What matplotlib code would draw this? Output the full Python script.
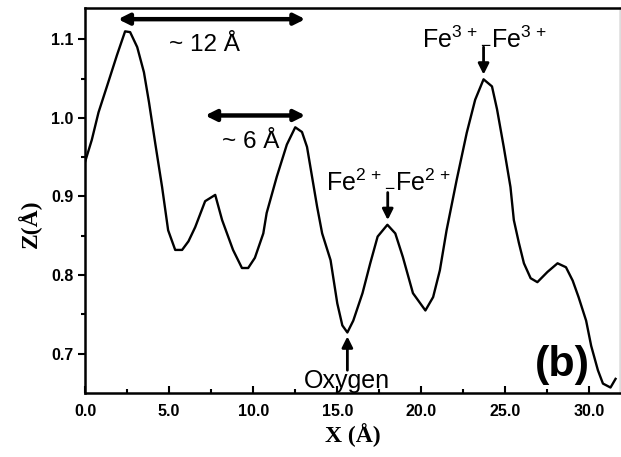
import matplotlib.pyplot as plt

plt.rcParams['mathtext.fontset'] = 'custom'
plt.rcParams['mathtext.rm'] = 'Liberation Sans'
plt.rcParams['mathtext.it'] = 'Liberation Sans'

# Height profile along the line
x_pos = [0.0, 0.4, 0.8, 1.3, 1.9, 2.38, 2.68, 3.1, 3.5, 3.8, 4.17, 4.58, 4.94, 5.36,
         5.77, 6.15, 6.55, 7.14, 7.74, 8.15, 8.8, 9.33, 9.7, 10.1, 10.6, 10.8, 11.4,
         12.0, 12.5, 12.9, 13.2, 13.5, 13.8, 14.1, 14.6, 15.0, 15.3, 15.6, 15.95,
         16.5, 16.96, 17.4, 17.98, 18.45, 18.9, 19.5, 20.24, 20.7, 21.1, 21.5, 22.1,
         22.7, 23.2, 23.7, 24.2, 24.5, 24.9, 25.3, 25.5, 25.8, 26.1, 26.5, 26.9,
         27.5, 28.1, 28.6, 29.0, 29.35, 29.8, 30.1, 30.5, 30.8, 31.25, 31.55]
z_pos = [0.944, 0.972, 1.007, 1.040, 1.080, 1.110, 1.109, 1.090, 1.058, 1.020, 0.968,
         0.912, 0.857, 0.832, 0.832, 0.843, 0.861, 0.894, 0.902, 0.870, 0.832, 0.809,
         0.809, 0.822, 0.853, 0.879, 0.925, 0.966, 0.988, 0.982, 0.963, 0.925, 0.887,
         0.853, 0.819, 0.764, 0.736, 0.727, 0.742, 0.777, 0.815, 0.849, 0.864, 0.853,
         0.823, 0.777, 0.755, 0.772, 0.806, 0.857, 0.921, 0.981, 1.023, 1.049, 1.040,
         1.011, 0.963, 0.912, 0.870, 0.841, 0.815, 0.796, 0.791, 0.804, 0.815, 0.810,
         0.793, 0.772, 0.742, 0.710, 0.679, 0.662, 0.657, 0.668]

x_ticks = [0, 5, 10, 15, 20, 25, 30]
y_ticks = [0.7, 0.8, 0.9, 1.0, 1.1]

sans = 'Liberation Sans'
serif = 'Liberation Serif'

fig = plt.figure(figsize=(6.21, 4.57), dpi=100)
ax = fig.add_axes([0.137, 0.140, 0.861, 0.843])

ax.plot(x_pos, z_pos, color='black', linewidth=1.7)

ax.set_xlim(0, 31.8)
ax.set_ylim(0.65, 1.14)
ax.set_xticks(x_ticks)
ax.set_xticklabels([f"{t:.1f}" for t in x_ticks])
ax.set_xticks([2.5, 7.5, 12.5, 17.5, 22.5, 27.5], minor=True)
ax.set_yticks(y_ticks)
ax.set_yticklabels([f"{t:.1f}" for t in y_ticks])
ax.set_yticks([0.75, 0.85, 0.95, 1.05], minor=True)

ax.tick_params(axis='x', which='both', direction='in', width=1.5)
ax.tick_params(axis='x', which='major', length=5, pad=8)
ax.tick_params(axis='x', which='minor', length=3)
ax.tick_params(axis='y', which='both', direction='out', width=1.5)
ax.tick_params(axis='y', which='major', length=5)
ax.tick_params(axis='y', which='minor', length=3)
for lab in ax.get_xticklabels() + ax.get_yticklabels():
    lab.set_fontfamily(sans)
    lab.set_fontweight('bold')
    lab.set_fontsize(11.5)

for sp in ax.spines.values():
    sp.set_linewidth(1.8)
ax.spines['right'].set_color('#dddddd')

ax.set_xlabel("X (Å)", fontfamily=serif, fontsize=17, fontweight='bold', labelpad=3)
ax.set_ylabel("Z(Å)", fontfamily=serif, fontsize=17, fontweight='bold')
ax.yaxis.set_label_coords(-0.08, 0.44)

# Double arrows for distances
arrow_style = dict(arrowstyle='<|-|>', color='black', lw=3.2, mutation_scale=16,
                   shrinkA=0, shrinkB=0)
ax.annotate('', xy=(1.96, 1.1255), xytext=(13.1, 1.1255), arrowprops=arrow_style)
ax.annotate('', xy=(7.14, 1.003), xytext=(13.1, 1.003), arrowprops=arrow_style)
ax.text(7.1, 1.0847, "~ 12 Å", fontfamily=sans, fontsize=17.5, ha='center',
        va='baseline')
ax.text(9.85, 0.962, "~ 6 Å", fontfamily=sans, fontsize=17.5, ha='center',
        va='baseline')

# Site labels with arrows
down = dict(arrowstyle='-|>', color='black', lw=2, mutation_scale=16,
            shrinkA=0, shrinkB=0)
ax.annotate('', xy=(23.7, 1.055), xytext=(23.7, 1.090), arrowprops=down)
ax.text(23.75, 1.0936, r"Fe$^{3\,+}$$_{-}$Fe$^{3\,+}$", fontfamily=sans, fontsize=18,
        ha='center', va='baseline')
ax.annotate('', xy=(18.0, 0.870), xytext=(18.0, 0.905), arrowprops=down)
ax.text(18.04, 0.9123, r"Fe$^{2\,+}$$_{-}$Fe$^{2\,+}$", fontfamily=sans, fontsize=18,
        ha='center', va='baseline')
ax.annotate('', xy=(15.6, 0.722), xytext=(15.6, 0.679), arrowprops=down)
ax.text(15.55, 0.6568, "Oxygen", fontfamily=sans, fontsize=18, ha='center',
        va='baseline')

ax.text(28.4, 0.686, "(b)", fontfamily=sans, fontsize=31, fontweight='bold',
        ha='center', va='center')

fig.savefig("out.png", dpi=100)
